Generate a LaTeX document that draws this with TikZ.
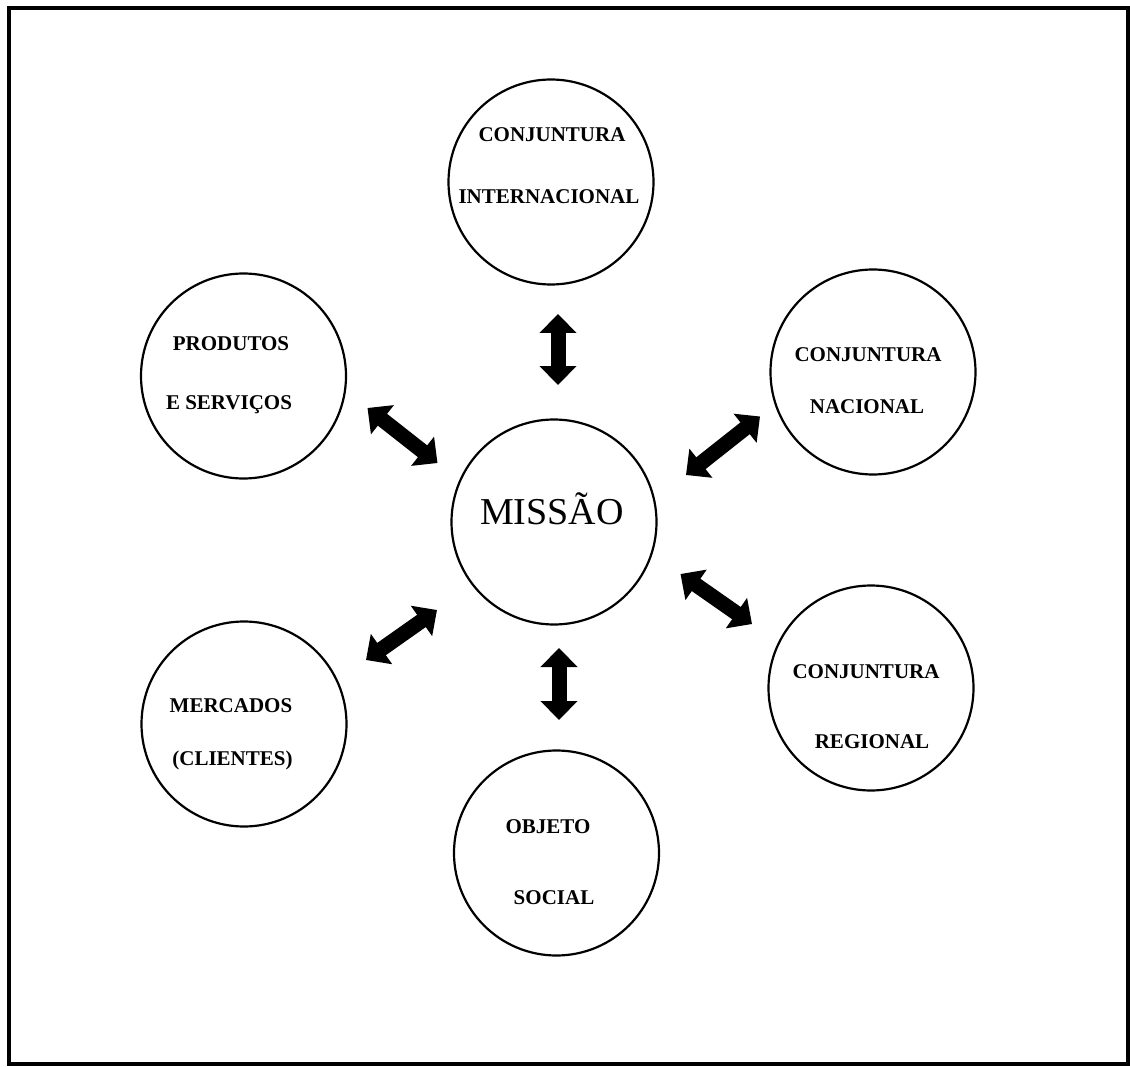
\documentclass[tikz,border=0pt]{standalone}
\usepackage{fontspec}
\setmainfont{Liberation Serif}
\usetikzlibrary{arrows.meta}
\begin{document}
\begin{tikzpicture}[x=1pt,y=-1pt,
  bubble/.style={circle, draw=black, line width=2.2pt, minimum size=205pt, inner sep=0pt},
  lbl/.style={anchor=base, inner sep=0pt, font=\fontsize{21}{25}\selectfont\bfseries},
  biglbl/.style={anchor=base, inner sep=0pt, font=\fontsize{38}{44}\selectfont},
  dblarrow/.style={line width=15pt, {Triangle[width=36pt,length=19pt]}-{Triangle[width=36pt,length=19pt]}},
]
\useasboundingbox (0,0) rectangle (1130,1067);
\draw[line width=4pt] (8.5,8) rectangle (1127.5,1064);

% circles
\node[bubble] (inter)  at (551,182) {};
\node[bubble] (missao) at (554,522) {};
\node[bubble] (prod)   at (243.5,376) {};
\node[bubble] (nac)    at (873,372) {};
\node[bubble] (reg)    at (871,688) {};
\node[bubble] (merc)   at (244,724) {};
\node[bubble] (obj)    at (556.5,853) {};

% labels
\node[biglbl] (tmissao) at (552,524) {MISSÃO};
\node[lbl] (tinter1) at (552,141.5) {CONJUNTURA};
\node[lbl] (tinter2) at (549,204) {INTERNACIONAL};
\node[lbl] (tprod1)  at (231,351) {PRODUTOS};
\node[lbl] (tprod2)  at (229,409) {E SERVIÇOS};
\node[lbl] (tnac1)   at (868,361) {CONJUNTURA};
\node[lbl] (tnac2)   at (867,413) {NACIONAL};
\node[lbl] (treg1)   at (866,678) {CONJUNTURA};
\node[lbl] (treg2)   at (872,748) {REGIONAL};
\node[lbl] (tmerc1)  at (231,712.5) {MERCADOS};
\node[lbl] (tmerc2)  at (232.5,765) {(CLIENTES)};
\node[lbl] (tobj1)   at (548,833) {OBJETO};
\node[lbl] (tobj2)   at (554,904) {SOCIAL};

% arrow end points
\coordinate (a1s) at (558,314);   \coordinate (a1e) at (558,385);
\coordinate (a2s) at (559,648);   \coordinate (a2e) at (559,720);
\coordinate (a3s) at (367.5,408); \coordinate (a3e) at (437.5,463);
\coordinate (a4s) at (760,416.5); \coordinate (a4e) at (686,475);
\coordinate (a5s) at (680.5,574); \coordinate (a5e) at (752,624);
\coordinate (a6s) at (366,660);   \coordinate (a6e) at (437,610);

\draw[dblarrow] (a1s) -- (a1e);
\draw[dblarrow] (a2s) -- (a2e);
\draw[dblarrow] (a3s) -- (a3e);
\draw[dblarrow] (a4s) -- (a4e);
\draw[dblarrow] (a5s) -- (a5e);
\draw[dblarrow] (a6s) -- (a6e);
\end{tikzpicture}
\end{document}
